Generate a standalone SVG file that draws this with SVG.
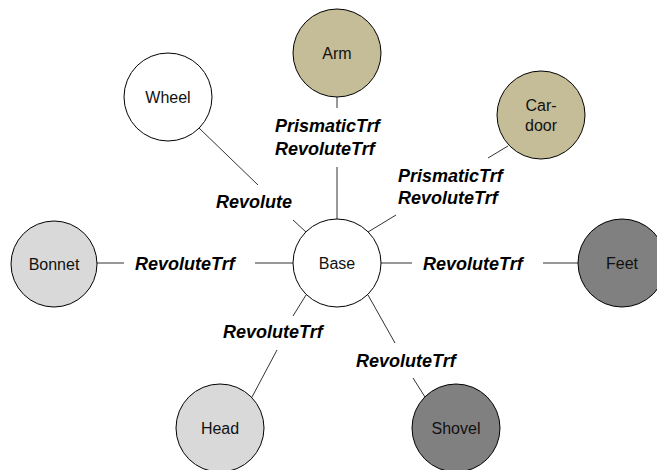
<svg xmlns="http://www.w3.org/2000/svg" width="657" height="470" viewBox="0 0 657 470">
<style>
.n{stroke:#000;stroke-width:1}
.nl{font-family:"Liberation Sans",Arial,sans-serif;font-size:16px;fill:#111;text-anchor:middle}
.el{font-family:"Liberation Sans",Arial,sans-serif;font-size:18px;font-weight:bold;font-style:italic;fill:#000}
.c line{stroke:#333;stroke-width:1}
.w{fill:#fff}.t{fill:#c4bd97}.g{fill:#d9d9d9}.d{fill:#808080}
</style>
<rect width="657" height="470" fill="#fff"/>
<g id="connectors" class="c">
<line x1="337" y1="97" x2="337" y2="108"/>
<line x1="337" y1="167" x2="337" y2="219"/>
<line x1="508" y1="146" x2="488" y2="158"/>
<line x1="396" y1="215" x2="368" y2="232"/>
<line x1="199" y1="128" x2="258" y2="185"/>
<line x1="293" y1="220" x2="306" y2="232"/>
<line x1="97" y1="263" x2="124" y2="263"/>
<line x1="255" y1="263" x2="293" y2="263"/>
<line x1="381" y1="263" x2="412" y2="263"/>
<line x1="543" y1="263" x2="578" y2="263"/>
<line x1="306" y1="295" x2="293" y2="316"/>
<line x1="277" y1="350" x2="252" y2="397"/>
<line x1="368" y1="295" x2="395" y2="343"/>
<line x1="413" y1="378" x2="425" y2="397"/>
<text class="el" x="275" y="132">PrismaticTrf</text>
<text class="el" x="275" y="155">RevoluteTrf</text>
<text class="el" x="398" y="182">PrismaticTrf</text>
<text class="el" x="398" y="204">RevoluteTrf</text>
<text class="el" x="216" y="208">Revolute</text>
<text class="el" x="135" y="270">RevoluteTrf</text>
<text class="el" x="423" y="270">RevoluteTrf</text>
<text class="el" x="223" y="338">RevoluteTrf</text>
<text class="el" x="356" y="367">RevoluteTrf</text>
</g>
<g id="Base"><circle class="n w" cx="337" cy="263" r="44"/><text class="nl" x="337" y="269">Base</text></g>
<g id="Arm"><circle class="n t" cx="337" cy="53" r="44"/><text class="nl" x="337" y="59">Arm</text></g>
<g id="Car-door"><circle class="n t" cx="541" cy="115" r="44"/><text class="nl" x="541" y="111">Car-</text><text class="nl" x="541" y="131">door</text></g>
<g id="Wheel"><circle class="n w" cx="168" cy="97" r="44"/><text class="nl" x="168" y="103">Wheel</text></g>
<g id="Bonnet"><circle class="n g" cx="54" cy="264" r="43"/><text class="nl" x="54" y="270">Bonnet</text></g>
<g id="Feet"><circle class="n d" cx="622" cy="263" r="44"/><text class="nl" x="622" y="269">Feet</text></g>
<g id="Head"><circle class="n g" cx="220" cy="428" r="44"/><text class="nl" x="220" y="434">Head</text></g>
<g id="Shovel"><circle class="n d" cx="456" cy="428" r="44"/><text class="nl" x="456" y="434">Shovel</text></g>
</svg>
